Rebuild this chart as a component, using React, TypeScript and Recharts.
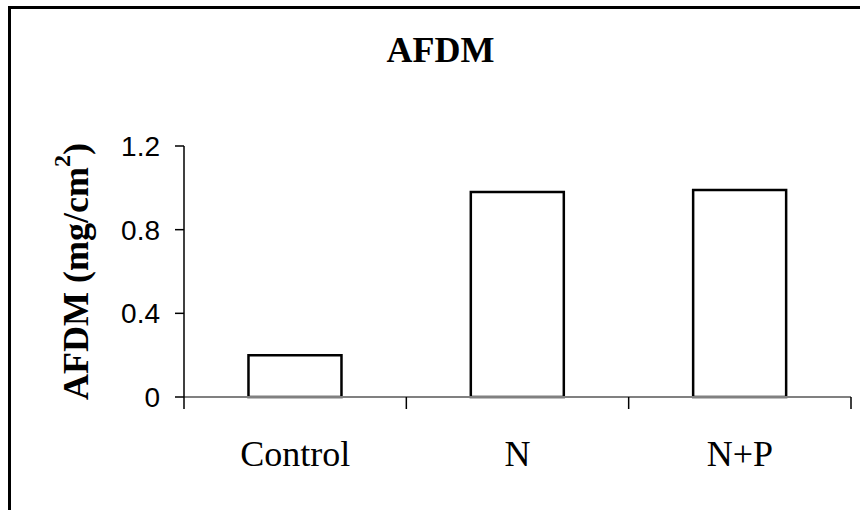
import React from 'react';
import { BarChart, Bar, XAxis, YAxis } from 'recharts';

const categories = ['Control', 'N', 'N+P'];
const afdmValues = [0.2, 0.98, 0.99];
const yTicks = [0, 0.4, 0.8, 1.2];

const data = categories.map((name, i) => ({ name, afdm: afdmValues[i] }));

const serif = '"Liberation Serif", "Times New Roman", serif';
const sans = '"Liberation Sans", Arial, sans-serif';

// label in the middle of each band, tick marks on the band edges (Excel style)
const CategoryTick = (props: any) => {
    const { x, y, payload, index, visibleTicksCount } = props;
    const half = payload.offset || 0;
    const top = y - 12;
    const isLast = index === visibleTicksCount - 1;
    return (
        <g>
            <line x1={x - half} x2={x - half} y1={top} y2={y} stroke="#000" strokeWidth={1.5} />
            {isLast && <line x1={x + half} x2={x + half} y1={top} y2={y} stroke="#000" strokeWidth={1.5} />}
            <text x={x} y={y} dy={57} textAnchor="middle" fontFamily={serif} fontSize={36} fill="#000">
                {payload.value}
            </text>
        </g>
    );
};

const YLabel = (props: any) => {
    const vb = props.viewBox || {};
    const cy = vb.y + vb.height / 2;
    const cx = 88;
    return (
        <text
            x={cx}
            y={cy}
            transform={`rotate(-90, ${cx}, ${cy})`}
            textAnchor="middle"
            fontFamily={serif}
            fontWeight="bold"
            fontSize={36}
            fill="#000"
        >
            AFDM (mg/cm
            <tspan dy={-18} fontSize={24}>2</tspan>
            <tspan dy={18}>)</tspan>
        </text>
    );
};

const App: React.FC = () => {
    return (
        <div style={{ position: 'absolute', left: 0, top: 0, width: 860, height: 510, background: '#fff' }}>
            <div
                style={{
                    position: 'absolute',
                    left: 8,
                    top: 6,
                    width: 852,
                    height: 504,
                    borderTop: '3px solid #000',
                    borderLeft: '3px solid #000',
                    boxSizing: 'border-box',
                }}
            />
            <div
                style={{
                    position: 'absolute',
                    left: 0,
                    top: 32,
                    width: 881,
                    textAlign: 'center',
                    fontFamily: serif,
                    fontWeight: 'bold',
                    fontSize: 36,
                    lineHeight: '36px',
                }}
            >
                AFDM
            </div>
            <div style={{ position: 'absolute', left: 0, top: 0 }}>
                <BarChart
                    width={860}
                    height={510}
                    data={data}
                    margin={{ top: 146, right: 9, left: 0, bottom: 0 }}
                    barCategoryGap="29%"
                >
                    <XAxis
                        dataKey="name"
                        interval={0}
                        height={113}
                        tickSize={12}
                        tickMargin={0}
                        tickLine={false}
                        axisLine={{ stroke: '#808080', strokeWidth: 2 }}
                        tick={(p: any) => <CategoryTick {...p} />}
                    />
                    <YAxis
                        width={184}
                        domain={[0, 1.2]}
                        ticks={yTicks}
                        interval={0}
                        tickSize={9}
                        tickMargin={15}
                        axisLine={{ stroke: '#000', strokeWidth: 1.5 }}
                        tickLine={{ stroke: '#000', strokeWidth: 1.5 }}
                        tick={{ fontFamily: sans, fontSize: 28, fill: '#000' }}
                        label={{ content: YLabel }}
                    />
                    <Bar
                        dataKey="afdm"
                        fill="#fff"
                        stroke="#000"
                        strokeWidth={2.5}
                        isAnimationActive={false}
                    />
                </BarChart>
            </div>
        </div>
    );
};

export default App;
